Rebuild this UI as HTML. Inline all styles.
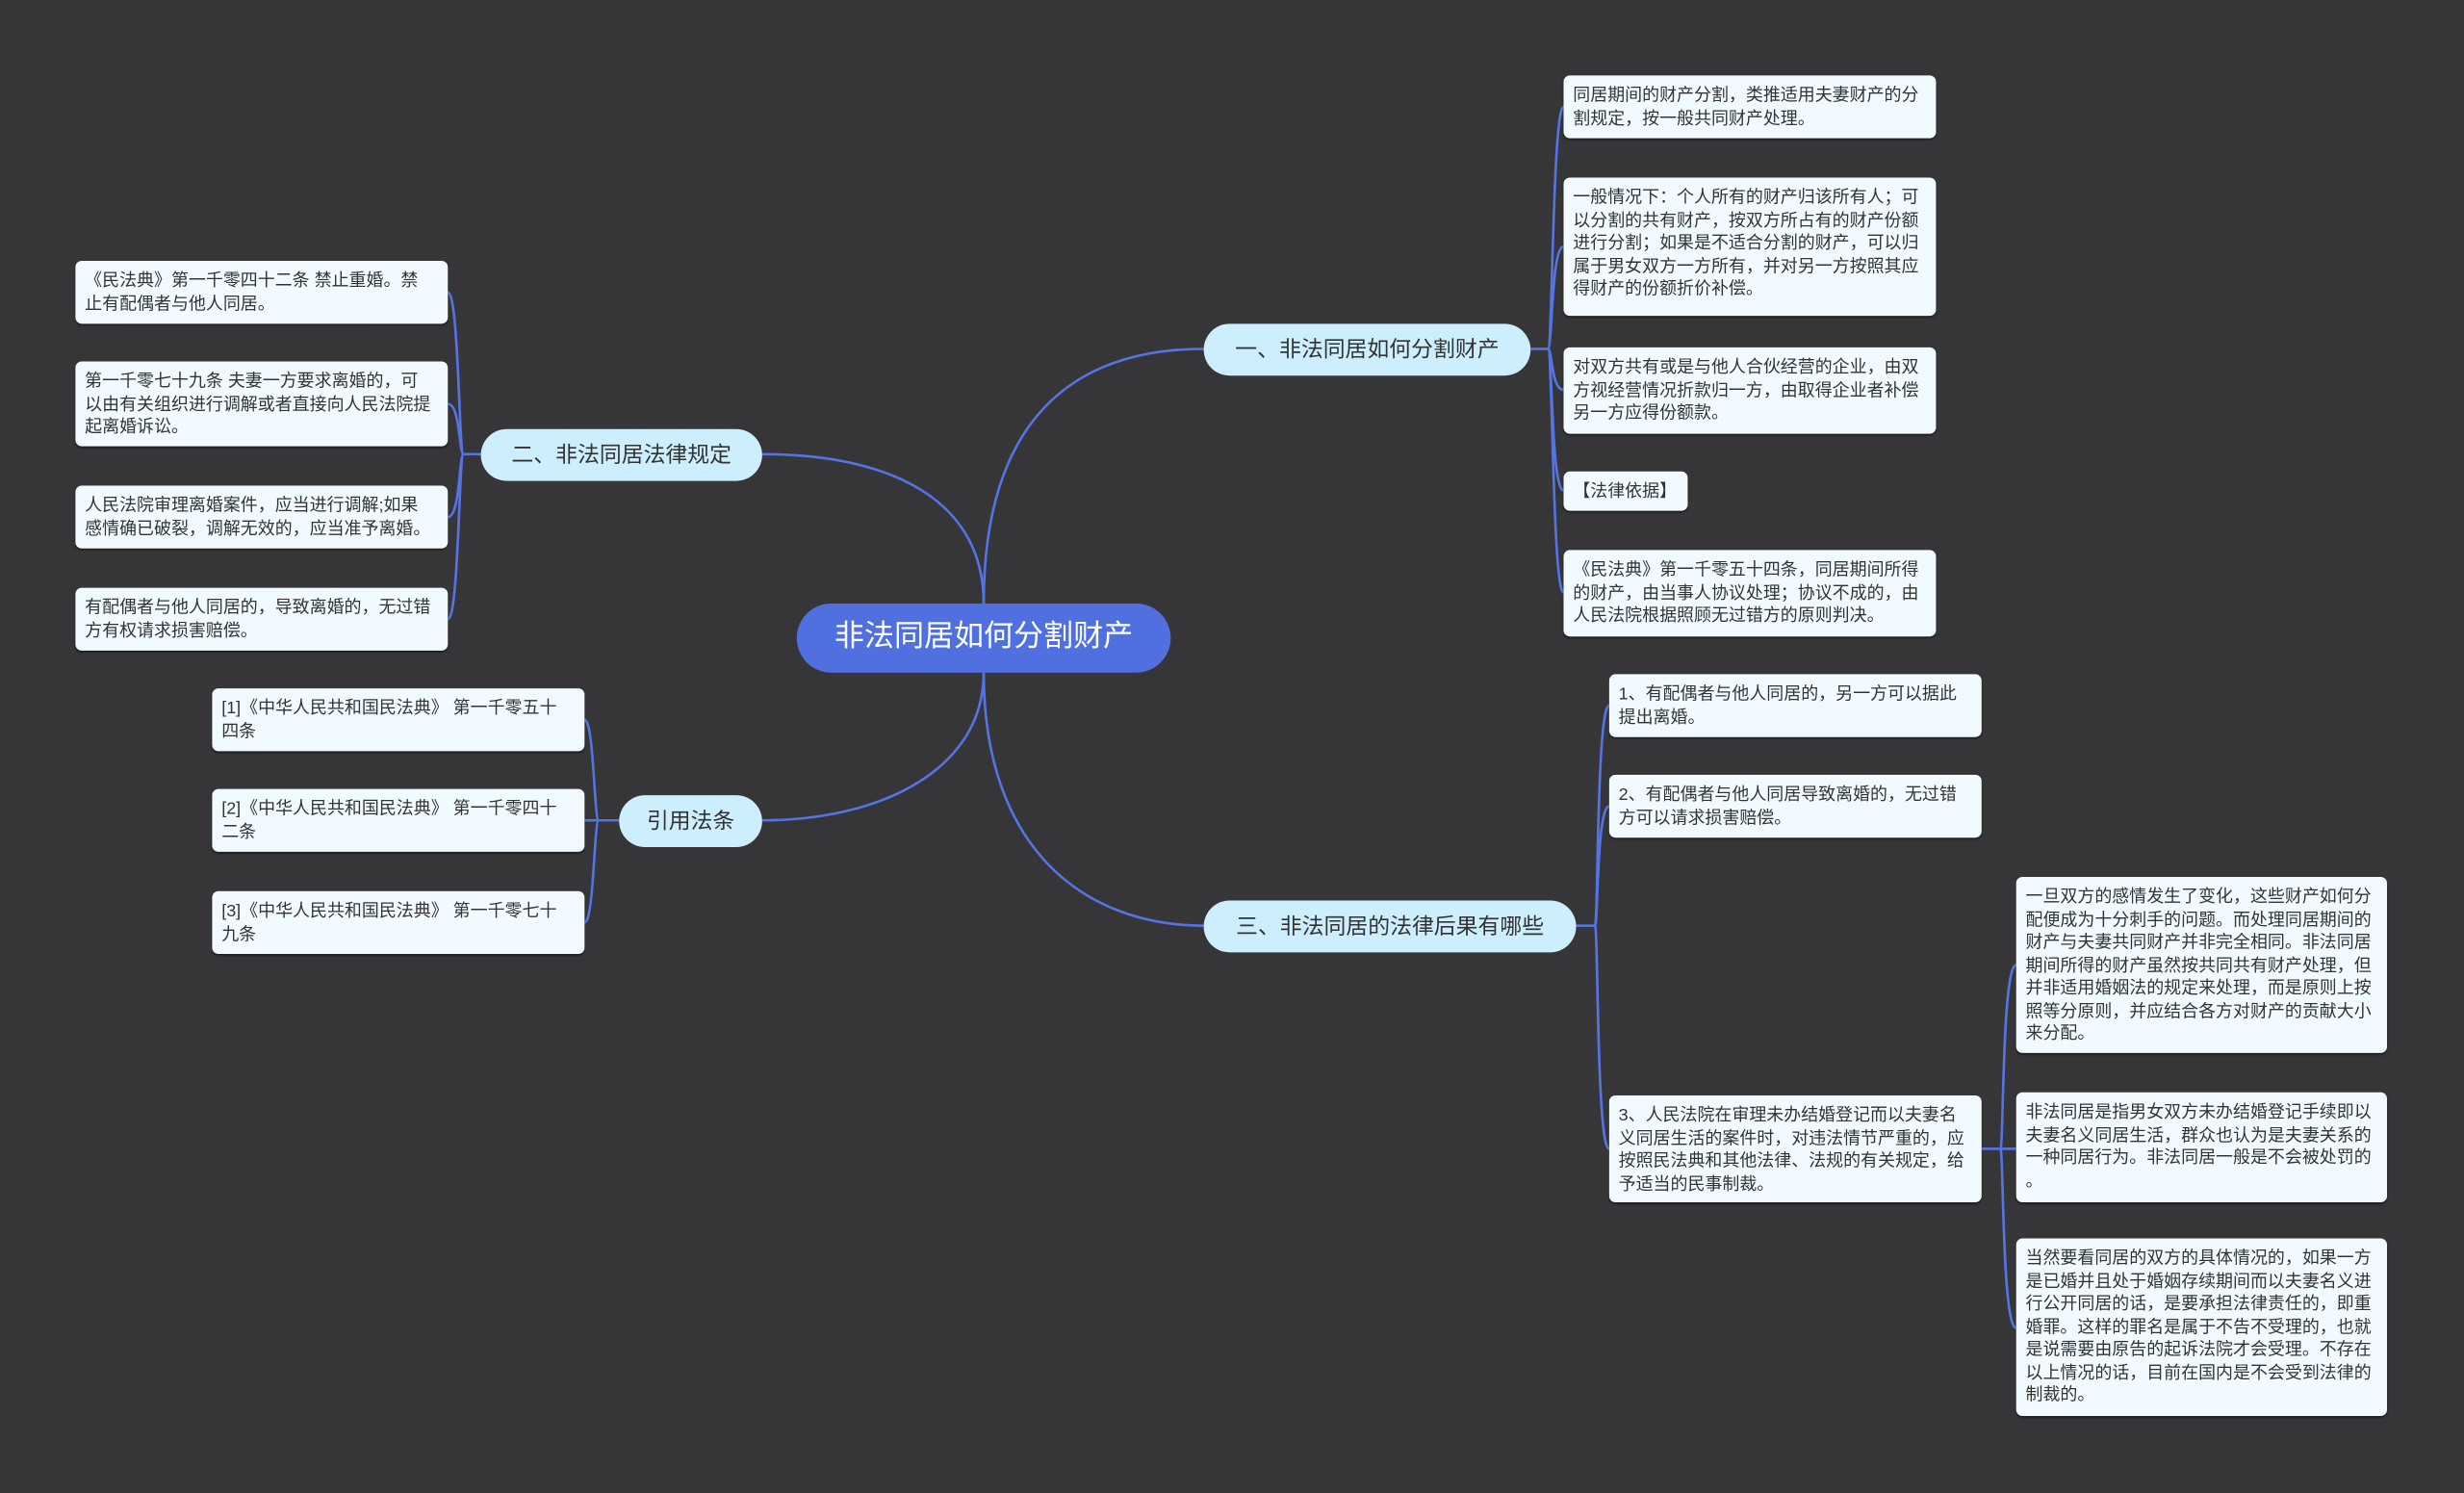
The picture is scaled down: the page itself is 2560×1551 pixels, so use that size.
<!DOCTYPE html>
<html><head><meta charset="utf-8"><style>
html,body{margin:0;padding:0;background:#363538;}
#wrap{width:1568px;height:950px;position:relative;transform:scale(1.632653);transform-origin:0 0;font-family:"Liberation Sans","Noto Sans CJK SC",sans-serif;}
svg{position:absolute;left:0;top:0;}
.n{position:absolute;box-sizing:border-box;}
.leaf{background:#f1fbff;border-radius:4px;font-size:11px;line-height:14.5px;color:#333;padding:6px 5px 0 6px;white-space:nowrap;box-shadow:0 1px 1px rgba(0,0,0,.4);}
.br{background:#cdeefd;border-radius:17px;font-size:14px;color:#333;text-align:center;line-height:33px;height:33px;}
.root{background:#5170e0;border-radius:22px;color:#fff;font-size:19px;text-align:center;line-height:44px;height:44px;}
</style></head><body><div id="wrap">
<svg width="1568" height="950" fill="none" stroke="#5474e2" stroke-width="1.6">
<path d="M626,384 C626,270 680,222 766,222"/>
<path d="M626,384 C626,320 570,289 485,289"/>
<path d="M626,428 C626,490 560,522 485,522"/>
<path d="M626,428 C626,540 690,589 766,589"/>
<g>
<path d="M974,222 H985"/>
<path d="M985,222 C988,222 988,68 995,68"/><path d="M985,222 C988,222 987,157 995,157"/><path d="M985,222 C988,222 987,248 995,248"/><path d="M985,222 C988,222 987,312 995,312"/><path d="M985,222 C988,222 988,377 995,377"/>
</g>
<g>
<path d="M306,289 H295"/>
<path d="M295,289 C292,289 292,186 285,186"/><path d="M295,289 C292,289 293,257 285,257"/><path d="M295,289 C292,289 293,329 285,329"/><path d="M295,289 C292,289 292,394 285,394"/>
</g>
<g>
<path d="M394,522 H381"/>
<path d="M381,522 C378,522 378,458 372,458"/><path d="M381,522 H372"/><path d="M381,522 C378,522 378,587 372,587"/>
</g>
<g>
<path d="M1003,589 H1015"/>
<path d="M1015,589 C1017,589 1016,449 1024,449"/><path d="M1015,589 C1017,589 1016,513 1024,513"/><path d="M1015,589 C1017,589 1016,731 1024,731"/>
</g>
<g>
<path d="M1261,731 H1273"/>
<path d="M1273,731 C1275,731 1274,614 1283,614"/><path d="M1273,731 H1283"/><path d="M1273,731 C1275,731 1274,845 1283,845"/>
</g>
</svg>
<div class="n root" style="left:507px;top:384px;width:238px;">非法同居如何分割财产</div>
<div class="n br" style="left:766px;top:206px;width:208px;">一、非法同居如何分割财产</div>
<div class="n br" style="left:306px;top:273px;width:179px;">二、非法同居法律规定</div>
<div class="n br" style="left:394px;top:506px;width:91px;">引用法条</div>
<div class="n br" style="left:766px;top:573px;width:237px;">三、非法同居的法律后果有哪些</div>

<div class="n leaf" style="left:995px;top:48px;width:237px;height:40px;">同居期间的财产分割，类推适用夫妻财产的分<br>割规定，按一般共同财产处理。</div>
<div class="n leaf" style="left:995px;top:113px;width:237px;height:88px;">一般情况下：个人所有的财产归该所有人；可<br>以分割的共有财产，按双方所占有的财产份额<br>进行分割；如果是不适合分割的财产，可以归<br>属于男女双方一方所有，并对另一方按照其应<br>得财产的份额折价补偿。</div>
<div class="n leaf" style="left:995px;top:221px;width:237px;height:55px;">对双方共有或是与他人合伙经营的企业，由双<br>方视经营情况折款归一方，由取得企业者补偿<br>另一方应得份额款。</div>
<div class="n leaf" style="left:995px;top:300px;width:79px;height:25px;">【法律依据】</div>
<div class="n leaf" style="left:995px;top:350px;width:237px;height:55px;">《民法典》第一千零五十四条，同居期间所得<br>的财产，由当事人协议处理；协议不成的，由<br>人民法院根据照顾无过错方的原则判决。</div>

<div class="n leaf" style="left:48px;top:166px;width:237px;height:40px;">《民法典》第一千零四十二条 禁止重婚。禁<br>止有配偶者与他人同居。</div>
<div class="n leaf" style="left:48px;top:230px;width:237px;height:54px;">第一千零七十九条 夫妻一方要求离婚的，可<br>以由有关组织进行调解或者直接向人民法院提<br>起离婚诉讼。</div>
<div class="n leaf" style="left:48px;top:309px;width:237px;height:40px;">人民法院审理离婚案件，应当进行调解;如果<br>感情确已破裂，调解无效的，应当准予离婚。</div>
<div class="n leaf" style="left:48px;top:374px;width:237px;height:40px;">有配偶者与他人同居的，导致离婚的，无过错<br>方有权请求损害赔偿。</div>

<div class="n leaf" style="left:135px;top:438px;width:237px;height:40px;">[1]《中华人民共和国民法典》 第一千零五十<br>四条</div>
<div class="n leaf" style="left:135px;top:502px;width:237px;height:40px;">[2]《中华人民共和国民法典》 第一千零四十<br>二条</div>
<div class="n leaf" style="left:135px;top:567px;width:237px;height:40px;">[3]《中华人民共和国民法典》 第一千零七十<br>九条</div>

<div class="n leaf" style="left:1024px;top:429px;width:237px;height:40px;">1、有配偶者与他人同居的，另一方可以据此<br>提出离婚。</div>
<div class="n leaf" style="left:1024px;top:493px;width:237px;height:40px;">2、有配偶者与他人同居导致离婚的，无过错<br>方可以请求损害赔偿。</div>
<div class="n leaf" style="left:1024px;top:697px;width:237px;height:68px;">3、人民法院在审理未办结婚登记而以夫妻名<br>义同居生活的案件时，对违法情节严重的，应<br>按照民法典和其他法律、法规的有关规定，给<br>予适当的民事制裁。</div>

<div class="n leaf" style="left:1283px;top:558px;width:236px;height:112px;">一旦双方的感情发生了变化，这些财产如何分<br>配便成为十分刺手的问题。而处理同居期间的<br>财产与夫妻共同财产并非完全相同。非法同居<br>期间所得的财产虽然按共同共有财产处理，但<br>并非适用婚姻法的规定来处理，而是原则上按<br>照等分原则，并应结合各方对财产的贡献大小<br>来分配。</div>
<div class="n leaf" style="left:1283px;top:695px;width:236px;height:70px;">非法同居是指男女双方未办结婚登记手续即以<br>夫妻名义同居生活，群众也认为是夫妻关系的<br>一种同居行为。非法同居一般是不会被处罚的<br>。</div>
<div class="n leaf" style="left:1283px;top:788px;width:236px;height:113px;">当然要看同居的双方的具体情况的，如果一方<br>是已婚并且处于婚姻存续期间而以夫妻名义进<br>行公开同居的话，是要承担法律责任的，即重<br>婚罪。这样的罪名是属于不告不受理的，也就<br>是说需要由原告的起诉法院才会受理。不存在<br>以上情况的话，目前在国内是不会受到法律的<br>制裁的。</div>
</div></body></html>
